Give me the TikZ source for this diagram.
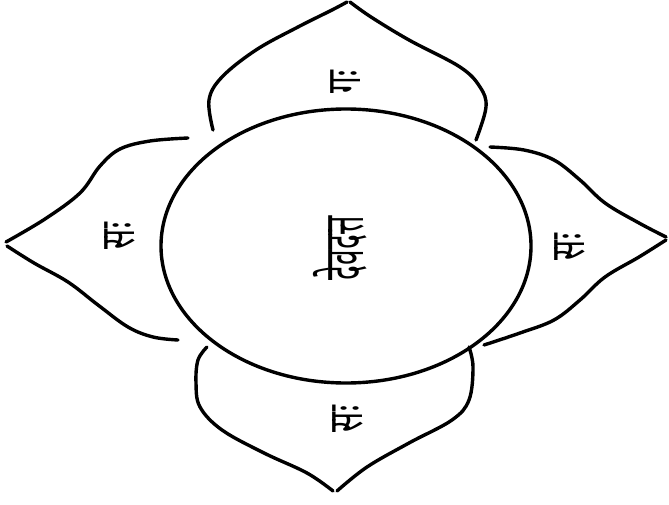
\documentclass[tikz,border=0pt]{standalone}
\usepackage{fontspec}
\usepackage{graphicx}
\newfontfamily\deva[Script=Devanagari]{Noto Sans}
\begin{document}
\begin{tikzpicture}[x=1pt,y=-1pt,
  outline/.style={line width=3.4pt, line cap=round, line join=round, black},
  petallabel/.style={font=\deva\bfseries\fontsize{48}{48}\selectfont, rotate=90, inner sep=0pt},
  centrelabel/.style={font=\deva\bfseries\fontsize{56}{56}\selectfont, rotate=90, inner sep=0pt}]
\useasboundingbox (0,0) rectangle (669,505);
% centre disc
\draw[outline] (346,246) ellipse [x radius=185, y radius=137];
% top petal
\draw[outline] plot[smooth, tension=0.6] coordinates {(213,130) (209,100) (222,77) (256,50) (298,27) (332,10) (347,2)};
\draw[outline] plot[smooth, tension=0.6] coordinates {(476,140) (486,107) (480,87) (460,67) (409,40) (371,17) (350,2)};
% left petal
\draw[outline] plot[smooth, tension=0.6] coordinates {(188,138) (150,141) (120,149) (100,166) (80,193) (45,219) (6,242)};
\draw[outline] plot[smooth, tension=0.6] coordinates {(7,246) (34,263) (68,282) (98,305) (128,327) (153,337) (178,340)};
% right petal
\draw[outline] plot[smooth, tension=0.6] coordinates {(490,147) (524,150) (554,160) (580,180) (605,203) (639,223) (666,237)};
\draw[outline] plot[smooth, tension=0.6] coordinates {(666,240) (639,257) (605,277) (580,300) (554,320) (520,333) (484,345)};
% bottom petal
\draw[outline] plot[smooth, tension=0.6] coordinates {(207,347) (198,360) (196,383) (200,407) (222,430) (264,453) (307,473) (333,491)};
\draw[outline] plot[smooth, tension=0.6] coordinates {(469,347) (473,367) (469,400) (452,420) (409,443) (367,467) (337,491)};
% labels
\node[centrelabel] (name) at (340,248) {\scalebox{0.5}[1]{देवदत्त}};
\node[petallabel] (ptop) at (346,82) {\scalebox{0.62}[1]{गः}};
\node[petallabel] (pleft) at (120,236) {\scalebox{0.62}[1]{सः}};
\node[petallabel] (pright) at (570,247) {\scalebox{0.62}[1]{सः}};
\node[petallabel] (pbottom) at (348,419) {\scalebox{0.62}[1]{सः}};
\end{tikzpicture}
\end{document}
